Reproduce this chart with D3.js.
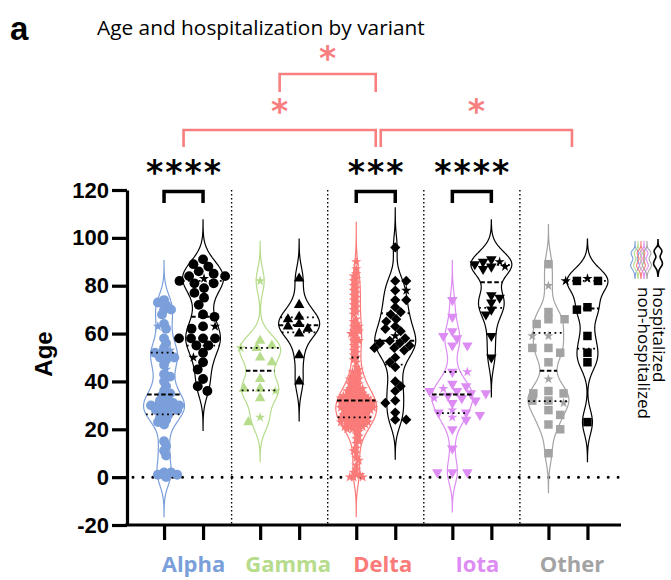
<!DOCTYPE html>
<html><head><meta charset="utf-8">
<script src="https://cdn.jsdelivr.net/npm/d3@7"></script>
<style>body{margin:0;background:#fff}</style>
</head><body><svg id="c" width="671" height="580"></svg>
<script>
// ---------- data ----------
const variants = ["Alpha","Gamma","Delta","Iota","Other"];
const groups = ["non-hospitalized","hospitalized"];
const variantColors = ["#7b9fda","#b6dc8c","#fa7b79","#dd8cf3","#a3a3a3"];
const yTicks = [-20,0,20,40,60,80,100,120];
const title = "Age and hospitalization by variant";
const yLabel = "Age";

const alphaNon = [74,73,72,70,70,68,64,62,58,56,54,52,52,51,50,50,49,47,43,42,40,38,36,35,34,33,32,31,31,30,30,30,29,29,28,28,27,26,25,24,23,22,15,13,11,9,2,2,1,1,0];
const alphaNonStar = [63,53,45];
const alphaHosp = [91,89,88,86,85,84,84,82,81,81,79,77,75,72,68,67,63,62,58,58,58,58,55,55,52,48,45,41,38,36];
const alphaHospStar = [83,63,50];
const gammaNon = [57,55,54,50,48,41,37,37,33,23];
const gammaNonStar = [82,54,36,25];
const gammaHosp = [83,72,67,66,64,63,62,60,51,40];
const gammaHospStar = [];
const deltaNon = [0,0,0,1,1,2,3, 5,7,8,10,11,12,14, 15,16,17,18,19,
  20,20,20,21,21,21,21,22,22,22,22,23,23,23,23,23,24,24,24,24,24,25,25,25,25,25,26,26,26,26,26,27,27,27,27,
  28,28,28,28,28,28,29,29,29,29,29,29,30,30,30,30,30,30,31,31,31,31,31,31,32,32,32,32,32,32,33,33,33,33,33,34,34,34,34,34,
  35,35,35,36,36,36,37,37,37,38,38,39,39,40,40,41,41,42,42,43,44,44,
  45,46,48,49,50,51,52,53,54, 55,56,57,57,58,59,60,60,61,61,62,63,63,64,
  65,66,68,69,70,71,72,73,74, 75,76,77,78,79,80,81,82,83,84, 85,87,90];
const deltaNonStar = [];
const deltaHosp = [96,82,82,78,74,74,71,69,68,66,65,63,62,61,58,57,56,56,55,54,54,53,50,48,46,40,38,36,32,31,27,24,24];
const deltaHospStar = [78,59];
const iotaNon = [74,67,61,59,58,55,55,44,39,38,36,36,35,35,34,33,32,31,27,27,26,24,20,12,2,2,2];
const iotaNonStar = [44,37,33,28,25];
const iotaHosp = [91,90,89,88,87,76,75,73,70,68,59,50];
const iotaHospStar = [90,88];
const otherNon = [89,69,66,66,64,54,54,52,48,36,35,35,32,32,28,26,22,20,10];
const otherNonStar = [80,59,59,41,31];
const otherHosp = [82,82,71,70,59,52,48,23];
const otherHospStar = [83,82];

const pairTests = [["Alpha","****"],["Delta","***"],["Iota","****"]];
const variantTests = [["Alpha","Delta",1,"*"],["Delta","Other",1,"*"],["Gamma","Delta",2,"*"]];

// ---------- setup ----------
const W = 671, H = 580;
const svg = d3.select("#c");
const y = d3.scaleLinear().domain([-20,120]).range([525,190]);
const xGroup = d3.scaleBand().domain(variants).range([135.5,616]);
const xSub = d3.scalePoint().domain(groups).range([-19.5,19.5]);
const xLabel = d3.scalePoint().domain(variants).range([193.5,572]);
const color = d3.scaleOrdinal().domain(variants).range(variantColors);
const cx = (v,g) => xGroup(v) + xGroup.bandwidth()/2 + xSub(g);
const gc = v => xGroup(v) + xGroup.bandwidth()/2;

const series = [
 {v:"Alpha",g:groups[0],main:alphaNon,star:alphaNonStar,shape:"circle",d:5,sx:1.4},
 {v:"Alpha",g:groups[1],main:alphaHosp,star:alphaHospStar,shape:"circle",d:8,sx:1.5},
 {v:"Gamma",g:groups[0],main:gammaNon,star:gammaNonStar,shape:"tri",d:7,sx:2.3},
 {v:"Gamma",g:groups[1],main:gammaHosp,star:gammaHospStar,shape:"tri",d:7,sx:1.7},
 {v:"Delta",g:groups[0],main:deltaNon,star:deltaNonStar,shape:"star",d:3.3,sx:1.15},
 {v:"Delta",g:groups[1],main:deltaHosp,star:deltaHospStar,shape:"diamond",d:5.5,sx:2},
 {v:"Iota",g:groups[0],main:iotaNon,star:iotaNonStar,shape:"tridown",d:6,sx:2.5},
 {v:"Iota",g:groups[1],main:iotaHosp,star:iotaHospStar,shape:"tridown",d:6,sx:1.5},
 {v:"Other",g:groups[0],main:otherNon,star:otherNonStar,shape:"square",d:7,sx:2.3},
 {v:"Other",g:groups[1],main:otherHosp,star:otherHospStar,shape:"square",d:7,sx:1.6}
];

const symPath = {
  circle: d3.symbol(d3.symbolCircle, 76)(),
  tri: d3.symbol(d3.symbolTriangle, 48)(),
  tridown: d3.symbol(d3.symbolTriangle, 48)(),
  square: d3.symbol(d3.symbolSquare, 72)(),
  diamond: d3.symbol(d3.symbolSquare, 52)(),
  star: d3.symbol(d3.symbolStar, 32)(),
  dstar: d3.symbol(d3.symbolStar, 32)()
};
const symRot = {tridown:180, diamond:45};

// ---------- frame ----------
svg.append("rect").attr("width",W).attr("height",H).attr("fill","#fff");
const plot = svg.append("g");

plot.selectAll("line.sep").data(variants.slice(1)).join("line")
  .attr("x1",d=>xGroup(d)).attr("x2",d=>xGroup(d))
  .attr("y1",y(120)).attr("y2",y(-20))
  .attr("stroke","#000").attr("stroke-width",1.4).attr("stroke-dasharray","1.4 2.6");
plot.append("line").attr("x1",133).attr("x2",622).attr("y1",y(0)).attr("y2",y(0))
  .attr("stroke","#000").attr("stroke-width",3).attr("stroke-linecap","round").attr("stroke-dasharray","0 9.9");

// ---------- violins ----------
const HALF = 20.5, BW = 5;
function dens(vals, t){ let s=0; for(const v of vals){const z=(t-v)/BW; s+=Math.exp(-0.5*z*z);} return s; }

function swarm(pts, d, sx){
  pts.sort((a,b)=>b.v-a.v);
  const placed = [];
  pts.forEach((p,idx)=>{
    p.y = y(p.v);
    const near = placed.filter(q=>Math.abs(q.y-p.y)<d);
    const cands = [0];
    near.forEach(q=>{const h=Math.sqrt(d*d-(q.y-p.y)**2)*sx; cands.push(q.off+h+0.01, q.off-h-0.01);});
    cands.sort((a,b)=>Math.abs(a)-Math.abs(b) || (idx%2?a-b:b-a));
    let off = 0;
    for(const o of cands){
      if(near.every(q=>((q.off-o)/sx)**2+(q.y-p.y)**2 >= d*d-0.02)){off=o;break;}
    }
    p.off = off; placed.push(p);
  });
  return pts;
}

series.forEach(s=>{
  const all = s.main.concat(s.star);
  const x0 = cx(s.v,s.g);
  const col = s.g===groups[0]?color(s.v):"#000";
  const lo = d3.min(all)-3.3*BW, hi = d3.max(all)+3.3*BW;
  const prof = d3.range(0,161).map(i=>{const t=lo+(hi-lo)*i/160; return [t,dens(all,t)];});
  const mx = d3.max(prof,d=>d[1]);
  const wOf = t => dens(all,t)/mx*HALF;
  plot.append("path").datum(prof)
    .attr("d", d3.area().x0(d=>x0-d[1]/mx*HALF).x1(d=>x0+d[1]/mx*HALF).y(d=>y(d[0])).curve(d3.curveBasis))
    .attr("fill","none").attr("stroke",col).attr("stroke-width",1.2);

  const pts = swarm(s.main.map(v=>({v,t:s.shape})).concat(s.star.map(v=>({v,t:"star"}))), s.d, s.sx);
  plot.append("g").selectAll("path").data(pts).join("path")
    .attr("d",d=>symPath[s.v==="Delta"&&s.g===groups[0]?"dstar":d.t])
    .attr("transform",d=>`translate(${x0+d.off},${d.y}) rotate(${symRot[d.t]||0})`)
    .attr("fill",col);

  const sorted = all.slice().sort(d3.ascending);
  const qs = [d3.quantile(sorted,0.25),d3.median(sorted),d3.quantile(sorted,0.75)];
  qs.forEach((q,i)=>{
    const w = wOf(q);
    plot.append("line").attr("x1",x0-w).attr("x2",x0+w).attr("y1",y(q)).attr("y2",y(q))
      .attr("stroke","#000").attr("stroke-width",i===1?2:1.8)
      .attr("stroke-dasharray",i===1?"4.5 2.5":"1.8 3.5");
  });
});

// ---------- axes ----------
const yAxis = plot.append("g").attr("transform","translate(127,0)")
  .call(d3.axisLeft(y).tickValues(yTicks).tickFormat(d=>String(d)).tickSize(15).tickSizeOuter(0).tickPadding(3));
yAxis.select(".domain").attr("stroke-width",3.2);
yAxis.selectAll(".tick line").attr("stroke-width",3.2);
yAxis.selectAll(".tick text").attr("font-family","Liberation Sans, Arial, sans-serif")
  .attr("font-weight","bold").attr("font-size",22).attr("fill","#000");

const subKeys = variants.flatMap(v=>groups.map(g=>v+"|"+g));
const xTickScale = d3.scaleOrdinal().domain(subKeys).range(subKeys.map(k=>{const [v,g]=k.split("|");return cx(v,g);}));
const xAxis = plot.append("g").attr("transform",`translate(0,${y(-20)})`)
  .call(d3.axisBottom(xTickScale).tickSize(15).tickFormat(""));
xAxis.select(".domain").remove();
xAxis.selectAll(".tick line").attr("stroke-width",3.2);
plot.append("line").attr("x1",125.4).attr("x2",621).attr("y1",y(-20)).attr("y2",y(-20))
  .attr("stroke","#000").attr("stroke-width",3.2);

plot.selectAll("text.cat").data(variants).join("text")
  .attr("x",d=>xLabel(d)).attr("y",572).attr("text-anchor","middle")
  .attr("font-family","Open Sans, sans-serif").attr("font-weight","bold").attr("font-size",22)
  .attr("fill",d=>color(d)).text(d=>d);

svg.append("text").attr("transform","translate(52,354) rotate(-90)").attr("text-anchor","middle")
  .attr("font-family","Liberation Sans, Arial, sans-serif").attr("font-weight","bold").attr("font-size",24).text(yLabel);

// ---------- title ----------
svg.append("text").attr("x",10).attr("y",40).attr("font-family","Liberation Sans, Arial, sans-serif")
  .attr("font-weight","bold").attr("font-size",33).text("a");
const tt = svg.append("text").attr("x",97).attr("y",35).attr("font-family","Open Sans, sans-serif")
  .attr("font-size",18).text(title);
{ const w = tt.node().getComputedTextLength(); if (w>0) tt.attr("font-size", 18*328/w); }

// ---------- significance ----------
const starFont = "DejaVu Sans, sans-serif";
const SF = 33;
pairTests.forEach(([v,lab])=>{
  const a = cx(v,groups[0]), b = cx(v,groups[1]);
  svg.append("path").attr("d",`M${a},203V191.5H${b}V203`).attr("fill","none")
    .attr("stroke","#000").attr("stroke-width",3.5);
  svg.append("text").attr("x",(a+b)/2+1).attr("y",183.5).attr("text-anchor","middle")
    .attr("font-family",starFont).attr("font-weight","bold").attr("font-size",SF)
    .attr("letter-spacing",2).text(lab);
});
const pink = "#f77f7f";
variantTests.forEach(([v1,v2,lvl,lab])=>{
  let a = gc(v1), b = gc(v2);
  if(v1==="Delta") { a += 5; b += 4; }
  const top = lvl===1?130:74, bot = lvl===1?147:92;
  svg.append("path").attr("d",`M${a},${bot}V${top}H${b}V${bot}`).attr("fill","none")
    .attr("stroke",pink).attr("stroke-width",2.6);
  svg.append("text").attr("x",(a+b)/2).attr("y",lvl===1?top-7.5:top-4.5).attr("text-anchor","middle")
    .attr("font-family",starFont).attr("font-weight","bold").attr("font-size",SF)
    .attr("fill",pink).text(lab);
});

// ---------- legend ----------
const iconProf = [[0,0],[7,0],[9,2.5],[12,4.5],[15,3],[18,1.5],[21,3.5],[25,5],[28,3],[31,0.6],[38,0]];
const iconLine = d3.line().curve(d3.curveBasis);
function iconPath(x0,y0){
  const r = iconProf.map(([dy,w])=>[x0+w,y0+dy]);
  const l = iconProf.slice().reverse().map(([dy,w])=>[x0-w,y0+dy]);
  return iconLine(r)+iconLine(l);
}
variants.forEach((v,i)=>{
  svg.append("path").attr("d",iconPath(635+i*3,241)).attr("fill","none")
    .attr("stroke",color(v)).attr("stroke-width",1.1);
});
svg.append("path").attr("d",iconPath(658,239)).attr("fill","none").attr("stroke","#000").attr("stroke-width",1.6);
svg.append("text").attr("transform","translate(653,287) rotate(90)").attr("font-family","Open Sans, sans-serif")
  .attr("font-size",17).text(groups[1]);
svg.append("text").attr("transform","translate(638,287) rotate(90)").attr("font-family","Open Sans, sans-serif")
  .attr("font-size",17).text(groups[0]);
</script></body></html>
